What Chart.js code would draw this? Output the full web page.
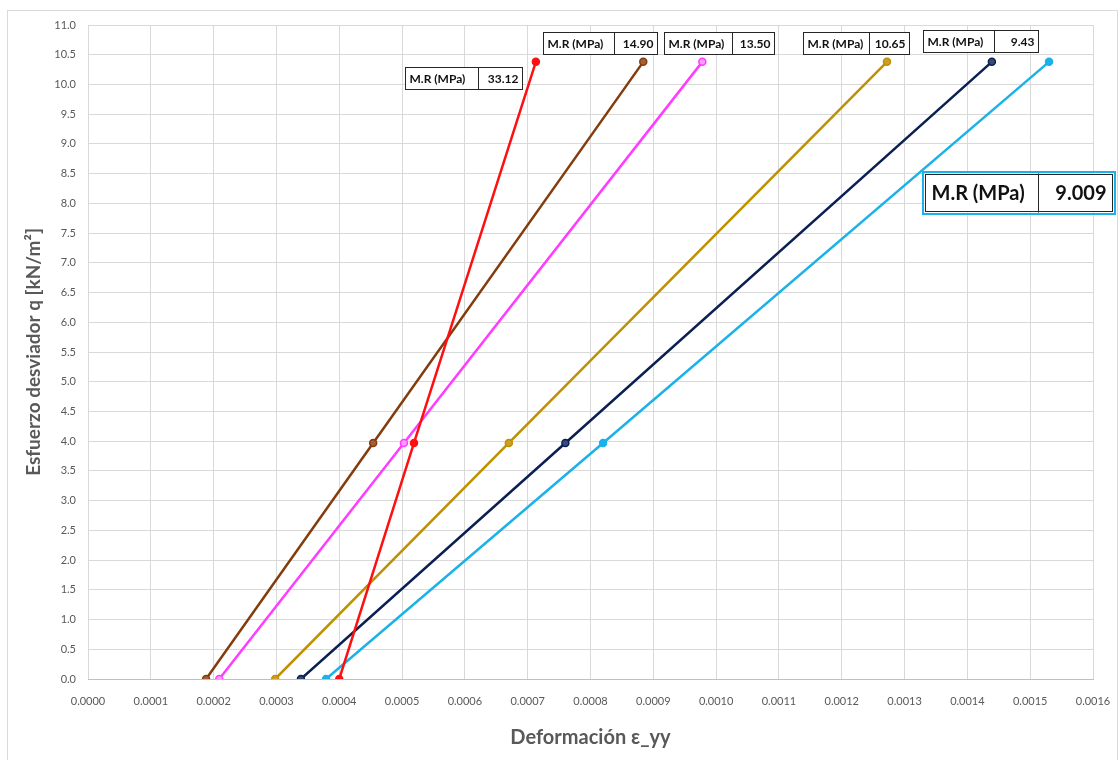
<!DOCTYPE html>
<html lang="es">
<head>
    <meta charset="UTF-8">
    <title>Módulo resiliente</title>
    <script src="https://cdn.jsdelivr.net/npm/chart.js"></script>
    <style>
        html, body { margin: 0; padding: 0; background: #fff; }
        #mrChart { display: block; }
    </style>
</head>
<body>
<canvas id="mrChart" width="1118" height="760"></canvas>
<script>
    // esfuerzo desviador (kN/m2) en los tres puntos de cada ensayo
    const stressLevels = [0, 3.97, 10.38];

    // deformaciones
    const strainRed     = [0.000400, 0.000519, 0.000713];
    const strainBrown   = [0.000188, 0.000454, 0.000884];
    const strainMagenta = [0.000209, 0.000503, 0.000978];
    const strainGold    = [0.000298, 0.000670, 0.001272];
    const strainNavy    = [0.000339, 0.000760, 0.001439];
    const strainCyan    = [0.000379, 0.000820, 0.001530];

    const mrValues = ['33.12', '14.90', '13.50', '10.65', '9.43', '9.009'];
    const mrLabel = 'M.R (MPa)';

    const xTickValues = [0, 0.0001, 0.0002, 0.0003, 0.0004, 0.0005, 0.0006, 0.0007, 0.0008,
                         0.0009, 0.0010, 0.0011, 0.0012, 0.0013, 0.0014, 0.0015, 0.0016];
    const yTickValues = [0, 0.5, 1, 1.5, 2, 2.5, 3, 3.5, 4, 4.5, 5, 5.5, 6, 6.5, 7, 7.5, 8,
                         8.5, 9, 9.5, 10, 10.5, 11];

    const series = [
        { strain: strainRed,     color: '#ff1010', fill: '#ff1010' },
        { strain: strainBrown,   color: '#843c0c', fill: '#a0603a' },
        { strain: strainMagenta, color: '#ff3cff', fill: '#ff9cff' },
        { strain: strainGold,    color: '#bf9000', fill: '#c9a02a' },
        { strain: strainNavy,    color: '#0b1f52', fill: '#3a4a78' },
        { strain: strainCyan,    color: '#1ab2e8', fill: '#1ab2e8' }
    ];

    // cajas de texto: desplazamiento respecto al punto superior de cada serie
    const boxLayout = [
        { dx: -131, dy: 5,   w: 117, h: 22, big: false },
        { dx: -100, dy: -30, w: 114, h: 22, big: false },
        { dx: -38,  dy: -30, w: 110, h: 22, big: false },
        { dx: -84,  dy: -30, w: 106, h: 22, big: false },
        { dx: -69,  dy: -32, w: 115, h: 22, big: false },
        { dx: -125, dy: 111, w: 189, h: 39, big: true }
    ];

    const FONT = 'Lato, "Open Sans", sans-serif';

    const frame = {
        id: 'frame',
        beforeDraw(chart) {
            const c = chart.ctx;
            c.save();
            c.fillStyle = '#fff';
            c.fillRect(0, 0, chart.width, chart.height);
            c.strokeStyle = '#d9d9d9';
            c.lineWidth = 1;
            c.strokeRect(7.5, 10.5, chart.width - 8, chart.height);
            c.restore();
        }
    };

    const mrBoxes = {
        id: 'mrBoxes',
        afterDatasetsDraw(chart) {
            const c = chart.ctx;
            c.save();
            boxLayout.forEach((b, i) => {
                const meta = chart.getDatasetMeta(i);
                const top = meta.data[meta.data.length - 1];
                const x = Math.round(top.x + b.dx) + 0.5;
                const y = Math.round(top.y + b.dy) + 0.5;
                c.fillStyle = '#fff';
                c.fillRect(x, y, b.w, b.h);
                const split = b.big ? 114 : Math.round(b.w * 0.62);
                if (b.big) {
                    c.strokeStyle = '#1ab2e8';
                    c.lineWidth = 2;
                    c.strokeRect(x - 1.5, y - 1.5, b.w + 3, b.h + 3);
                }
                c.strokeStyle = '#262626';
                c.lineWidth = 1;
                c.strokeRect(x + (b.big ? 1 : 0), y + (b.big ? 1 : 0), b.w - (b.big ? 2 : 0), b.h - (b.big ? 2 : 0));
                c.beginPath();
                c.moveTo(x + split, y);
                c.lineTo(x + split, y + b.h);
                c.stroke();
                c.fillStyle = '#111';
                c.textBaseline = 'middle';
                c.font = (b.big ? 'bold 20px ' : 'bold 12px ') + FONT;
                c.textAlign = 'left';
                c.fillText(mrLabel, x + (b.big ? 7 : 4), y + b.h / 2 + 1);
                c.textAlign = 'right';
                c.fillText(mrValues[i], x + b.w - (b.big ? 7 : 4), y + b.h / 2 + 1);
            });
            c.restore();
        }
    };

    new Chart(document.getElementById('mrChart'), {
        type: 'scatter',
        data: {
            datasets: series.map(s => ({
                data: s.strain.map((e, k) => ({ x: e, y: stressLevels[k] })),
                showLine: true,
                borderColor: s.color,
                backgroundColor: s.fill,
                pointBackgroundColor: s.fill,
                pointBorderColor: s.color,
                pointBorderWidth: 1.5,
                borderWidth: 2.5,
                pointRadius: 3.5,
                tension: 0
            }))
        },
        options: {
            responsive: false,
            animation: false,
            layout: { padding: { left: 0, top: 25, right: 25, bottom: 0 } },
            plugins: {
                legend: { display: false },
                tooltip: { enabled: false }
            },
            scales: {
                x: {
                    type: 'linear',
                    min: 0,
                    max: 0.0016,
                    afterBuildTicks: s => { s.ticks = xTickValues.map(v => ({ value: v })); },
                    afterFit: s => { s.height = 81; s.paddingRight = 0; },
                    grid: { color: '#d9d9d9', drawTicks: false },
                    border: { color: '#bfbfbf' },
                    ticks: {
                        padding: 16,
                        color: '#595959',
                        font: { family: FONT, size: 11 },
                        maxRotation: 0,
                        autoSkip: false,
                        callback: v => Number(v).toFixed(4)
                    },
                    title: {
                        display: true,
                        text: 'Deformación ε_yy',
                        color: '#595959',
                        font: { family: FONT, size: 20, weight: 'bold' },
                        padding: { top: 0, bottom: 10 }
                    }
                },
                y: {
                    min: 0,
                    max: 11,
                    afterBuildTicks: s => { s.ticks = yTickValues.map(v => ({ value: v })); },
                    afterFit: s => { s.width = 88; },
                    grid: { color: '#d9d9d9', drawTicks: false },
                    border: { display: false },
                    ticks: {
                        padding: 12,
                        color: '#595959',
                        font: { family: FONT, size: 11 },
                        autoSkip: false,
                        callback: v => Number(v).toFixed(1)
                    },
                    title: {
                        display: true,
                        text: 'Esfuerzo desviador q [kN/m²]',
                        color: '#595959',
                        font: { family: FONT, size: 19, weight: 'bold' },
                        padding: { top: 22, bottom: 0 }
                    }
                }
            }
        },
        plugins: [frame, mrBoxes]
    });
</script>
</body>
</html>
